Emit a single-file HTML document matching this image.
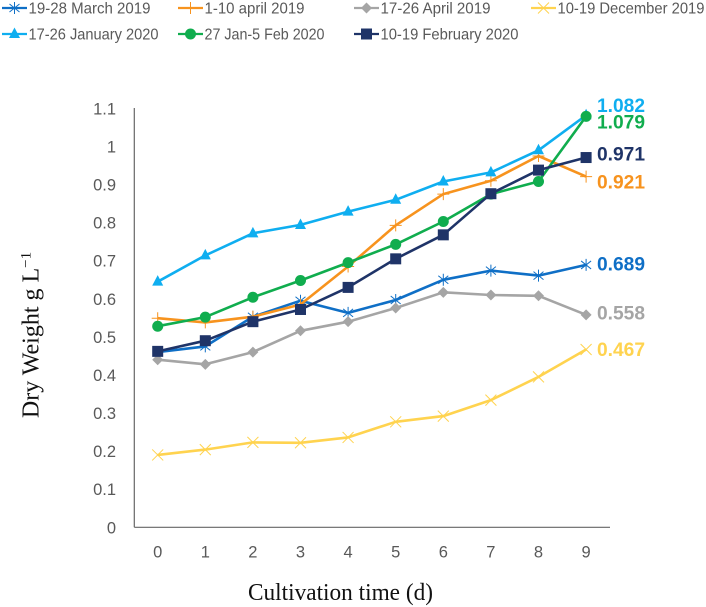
<!DOCTYPE html>
<html>
<head>
<meta charset="utf-8">
<style>
html,body{margin:0;padding:0;background:#fff;width:706px;height:607px;overflow:hidden}
svg{display:block}
.tick{font-family:"Liberation Sans",sans-serif;font-size:16.5px;fill:#595959}
.leg{font-family:"Liberation Sans",sans-serif;font-size:16px;fill:#595959}
.val{font-family:"Liberation Sans",sans-serif;font-size:19px;font-weight:bold}
.ttl{font-family:"Liberation Serif",serif;font-size:24px;fill:#111}
</style>
</head>
<body>
<svg id="chart" width="706" height="607" viewBox="0 0 706 607" xmlns="http://www.w3.org/2000/svg"></svg>
<script>
const days = [0,1,2,3,4,5,6,7,8,9];
const yTicks = [0,0.1,0.2,0.3,0.4,0.5,0.6,0.7,0.8,0.9,1,1.1];
const march2019 = [0.46,0.475,0.553,0.595,0.563,0.597,0.65,0.674,0.661,0.689];
const april1to10 = [0.549,0.538,0.553,0.585,0.685,0.793,0.875,0.91,0.975,0.921];
const april17to26 = [0.44,0.428,0.46,0.516,0.54,0.576,0.617,0.61,0.608,0.558];
const december2019 = [0.19,0.204,0.223,0.222,0.236,0.277,0.292,0.334,0.395,0.467];
const january2020 = [0.645,0.714,0.772,0.794,0.829,0.86,0.908,0.932,0.99,1.082];
const janFeb2020 = [0.528,0.552,0.604,0.648,0.695,0.743,0.803,0.875,0.908,1.079];
const february2020 = [0.462,0.49,0.54,0.572,0.63,0.705,0.768,0.876,0.938,0.971];
const seriesNames = ["19-28 March 2019","1-10 april 2019","17-26 April 2019","10-19 December 2019","17-26 January 2020","27 Jan-5 Feb 2020","10-19 February 2020"];
const seriesValues = [march2019,april1to10,april17to26,december2019,january2020,janFeb2020,february2020];
const seriesColors = ["#0F6FC6","#F7931E","#A5A5A5","#FFD34F","#0FAEF0","#10AD4E","#1F3468"];
const seriesMarkers = ["asterisk","plus","diamond","cross","triangle","circle","square"];
const endLabels = ["0.689","0.921","0.558","0.467","1.082","1.079","0.971"];
const endLabelNudge = [-1,5.5,-2,0,-10,5.5,-3.5];
const legendTextWidths = [122,100,110,147,130,120,138];

const xScale = d => 157.7 + d * 47.6;
const yScale = v => 527.3 - v * 380.8;

const svg = document.getElementById('chart');
function add(tag, attrs, parent, text){
  const el = document.createElementNS('http://www.w3.org/2000/svg', tag);
  for (const k in attrs) el.setAttribute(k, attrs[k]);
  if (text !== undefined) el.textContent = text;
  (parent || svg).appendChild(el);
  return el;
}
function drawMarker(g, type, x, y, color){
  const st = {stroke:color,'stroke-width':1,fill:'none'};
  if (type === 'asterisk'){
    add('path', Object.assign({d:`M${x-5} ${y-4}L${x+5} ${y+4}M${x-5} ${y+4}L${x+5} ${y-4}M${x} ${y-6}V${y+6}`}, st), g);
  } else if (type === 'plus'){
    add('path', Object.assign({d:`M${x-6} ${y}H${x+6}M${x} ${y-6}V${y+6}`}, st), g);
  } else if (type === 'cross'){
    add('path', Object.assign({d:`M${x-5.5} ${y-5.5}L${x+5.5} ${y+5.5}M${x-5.5} ${y+5.5}L${x+5.5} ${y-5.5}`}, st), g);
  } else if (type === 'diamond'){
    add('path', {d:`M${x} ${y-5.5}L${x+5.5} ${y}L${x} ${y+5.5}L${x-5.5} ${y}Z`, fill:color}, g);
  } else if (type === 'triangle'){
    add('path', {d:`M${x} ${y-6.5}L${x+5.5} ${y+4}L${x-5.5} ${y+4}Z`, fill:color}, g);
  } else if (type === 'circle'){
    add('circle', {cx:x, cy:y, r:5.5, fill:color}, g);
  } else if (type === 'square'){
    add('rect', {x:x-5.5, y:y-5.5, width:11, height:11, fill:color}, g);
  }
}

const axes = add('g', {});


const yAxis = add('line', {x1:134.3, y1:108, x2:134.3, y2:527.3, stroke:'#666', 'stroke-width':1.2}, axes);


const xAxis = add('line', {x1:134.3, y1:527.3, x2:610, y2:527.3, stroke:'#666', 'stroke-width':1.2}, axes);



yTicks.forEach(t => {
  const el = add('text', {x:116, y:yScale(t)+6, 'text-anchor':'end', class:'tick'}, axes, String(t));
  
  
});
days.forEach(d => {
  const el = add('text', {x:xScale(d), y:557.5, 'text-anchor':'middle', class:'tick'}, axes, String(d));
  
  
});

seriesValues.forEach((vals, i) => {
  const g = add('g', {});
  
  
  const pts = vals.map((v, j) => xScale(days[j]).toFixed(1) + ',' + yScale(v).toFixed(1)).join(' ');
  add('polyline', {points:pts, fill:'none', stroke:seriesColors[i], 'stroke-width':2.6, 'stroke-linejoin':'round'}, g);
  vals.forEach((v, j) => drawMarker(g, seriesMarkers[i], xScale(days[j]), yScale(v), seriesColors[i]));
});

seriesValues.forEach((vals, i) => {
  const yy = yScale(vals[vals.length-1]) + 6.5 + endLabelNudge[i];
  const el = add('text', {x:597, y:yy, class:'val', fill:seriesColors[i], textLength:48, lengthAdjust:'spacingAndGlyphs'}, svg, endLabels[i]);
  
  
});

const legendColumns = [2,178,354,531];
const legendRows = [8,34];
seriesNames.forEach((name, i) => {
  const col = i < 4 ? i : i - 4;
  const row = i < 4 ? 0 : 1;
  const x = legendColumns[col], y = legendRows[row];
  const g = add('g', {});
  
  
  add('line', {x1:x, y1:y, x2:x+25, y2:y, stroke:seriesColors[i], 'stroke-width':2.2}, g);
  drawMarker(g, seriesMarkers[i], x+12.5, y, seriesColors[i]);
  add('text', {x:x+26.5, y:y+5.5, class:'leg', textLength:legendTextWidths[i], lengthAdjust:'spacingAndGlyphs'}, g, name);
});

const yTitle = add('text', {transform:'translate(38.5 335) rotate(-90)', 'text-anchor':'middle', class:'ttl'}, svg);


yTitle.appendChild(document.createTextNode('Dry Weight g L'));
add('tspan', {dy:-8, 'font-size':15}, yTitle, '\u22121');

const xTitle = add('text', {x:340.5, y:600, 'text-anchor':'middle', class:'ttl', textLength:185, lengthAdjust:'spacingAndGlyphs'}, svg, 'Cultivation time (d)');


</script>
</body>
</html>
